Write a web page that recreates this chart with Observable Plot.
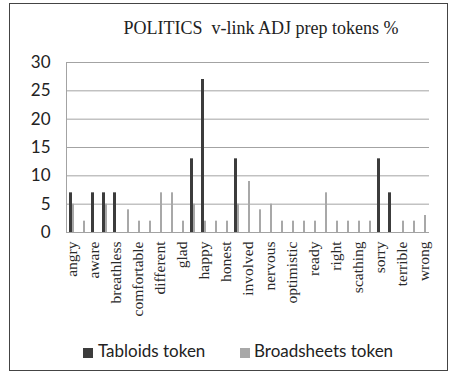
<!DOCTYPE html>
<html>
<head>
<meta charset="utf-8">
<script src="https://cdn.jsdelivr.net/npm/d3@7"></script>
<script src="https://cdn.jsdelivr.net/npm/@observablehq/plot@0.6"></script>
<style>
  body { margin: 0; background: #fff; }
  #wrap { position: relative; width: 453px; height: 374px; overflow: hidden; background: #fff; }
  #wrap svg { position: absolute; left: 0; top: 0; }
  #frame { position: absolute; left: 9px; top: 3px; width: 439px; height: 368px; border: 1.5px solid #444; box-sizing: border-box; pointer-events: none; }
  #title { position: absolute; top: 19px; left: 261px; transform: translateX(-50%); white-space: pre;
           font-family: "Liberation Serif", "Times New Roman", serif; font-size: 18px; line-height: 18px; color: #222; }
  .lg-sw { position: absolute; width: 10px; height: 10px; top: 348px; }
  .lg-tx { position: absolute; top: 342px; font-family: Lato, "Open Sans", sans-serif; font-size: 17px; line-height: 17px; color: #222; white-space: nowrap; }
</style>
</head>
<body>
<div id="wrap">
  <div id="title"></div>
</div>
<script>
// ---- data ----
const title = "POLITICS  v-link ADJ prep tokens %";
const labels = ["angry","","aware","","breathless","","comfortable","","different","","glad","",
                "happy","","honest","","involved","","nervous","","optimistic","","ready","",
                "right","","scathing","","sorry","","terrible","","wrong"];
const tabloids    = [7,0,7,7,7,0,0,0,0,0,0,13,27,0,0,13,0,0,0,0,0,0,0,0,0,0,0,0,13,7,0,0,0];
const broadsheets = [5,2,0,5,0,4,2,2,7,7,2,5,2,2,2,5,9,4,5,2,2,2,2,7,2,2,2,2,0,0,2,2,3];
const seriesNames = ["Tabloids token", "Broadsheets token"];
const seriesColors = ["#3c3c3c", "#a8a8a8"];
const yTicks = [0, 5, 10, 15, 20, 25, 30];

// ---- build table ----
const idx = d3.range(labels.length);
const rowsT = idx.map(i => ({i, v: tabloids[i]})).filter(d => d.v > 0);
const rowsB = idx.map(i => ({i, v: broadsheets[i]})).filter(d => d.v > 0);

const chart = Plot.plot({
  width: 453,
  height: 374,
  marginTop: 62,
  marginBottom: 142,
  marginLeft: 66,
  marginRight: 24,
  style: { background: "transparent", color: "#222", fontFamily: "Lato, sans-serif" },
  x: { type: "band", domain: idx, padding: 0, label: null },
  y: { domain: [0, 30], label: null },
  marks: [
    Plot.ruleY(yTicks, { stroke: "#a3a3a3", strokeWidth: 1 }),
    Plot.ruleX([0], { y1: 0, y2: 30, dx: -5.5, stroke: "#a3a3a3", strokeWidth: 1 }),
    Plot.barY(rowsT, { x: "i", y: "v", fill: seriesColors[0], insetLeft: 3, insetRight: 5 }),
    Plot.barY(rowsB, { x: "i", y: "v", fill: seriesColors[1], insetLeft: 6, insetRight: 3 }),
    Plot.axisY({ ticks: yTicks, tickSize: 0, tickPadding: 16, label: null, fontSize: 17, fontFamily: "Lato, sans-serif", fill: "#222" }),
    Plot.axisX({ tickSize: 0, tickPadding: 9, tickRotate: -90, label: null, tickFormat: i => labels[i],
                 fontSize: 15.5, fontFamily: "Liberation Serif, serif", fill: "#2a2a2a" })
  ]
});

const wrap = document.getElementById("wrap");
wrap.insertBefore(chart, wrap.firstChild);
document.getElementById("title").textContent = title;

const frame = document.createElement("div");
frame.id = "frame";
wrap.appendChild(frame);

const lgX = [[83, 98], [240, 254]];
seriesNames.forEach((name, k) => {
  const sw = document.createElement("div");
  sw.className = "lg-sw";
  sw.style.left = lgX[k][0] + "px";
  sw.style.background = seriesColors[k];
  wrap.appendChild(sw);
  const tx = document.createElement("div");
  tx.className = "lg-tx";
  tx.style.left = lgX[k][1] + "px";
  tx.textContent = name;
  wrap.appendChild(tx);
});
</script>
</body>
</html>
